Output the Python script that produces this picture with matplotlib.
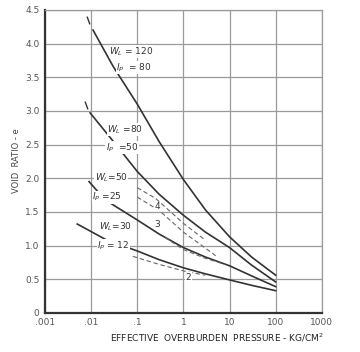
import matplotlib
matplotlib.use("Agg")
import matplotlib.pyplot as plt

# ---- data ----
c1_x = [0.011, 0.03, 0.1, 0.3, 1, 3, 10, 30, 100]
c1_e = [4.20, 3.66, 3.10, 2.54, 1.98, 1.53, 1.13, 0.83, 0.56]
c2_x = [0.0095, 0.03, 0.1, 0.3, 1, 3, 10, 30, 100]
c2_e = [2.97, 2.55, 2.10, 1.76, 1.45, 1.20, 0.97, 0.71, 0.46]
c3_x = [0.009, 0.02, 0.1, 0.3, 1, 3, 10, 30, 100]
c3_e = [1.95, 1.68, 1.38, 1.17, 0.97, 0.83, 0.70, 0.55, 0.39]
c4_x = [0.005, 0.022, 0.1, 0.3, 1, 3, 10, 30, 100]
c4_e = [1.32, 1.08, 0.92, 0.79, 0.67, 0.58, 0.49, 0.41, 0.33]

d4a_x = [0.1, 0.25, 1, 3]
d4a_e = [1.86, 1.70, 1.33, 1.08]
d4b_x = [0.1, 0.3, 1, 5]
d4b_e = [1.72, 1.52, 1.20, 0.85]
d3_x = [0.4, 1, 3, 8]
d3_e = [1.12, 0.94, 0.81, 0.72]
d2_x = [0.08, 0.3, 1.2, 3]
d2_e = [0.84, 0.72, 0.61, 0.56]

tick_x = [0.0086, 0.0078]
tick_e = [4.35, 3.09]

xticks = [0.001, 0.01, 0.1, 1, 10, 100, 1000]
xticklabels = [".001", ".01", ".1", "1", "10", "100", "1000"]
yticks = [0, 0.5, 1.0, 1.5, 2.0, 2.5, 3.0, 3.5, 4.0, 4.5]
yticklabels = ["0", "0.5", "1.0", "1.5", "2.0", "2.5", "3.0", "3.5", "4.0", "4.5"]

fig = plt.figure(figsize=(3.6, 3.52), dpi=100)
ax = fig.add_axes([0.125, 0.111, 0.769, 0.861])
ax.set_xscale("log")
ax.set_xlim(0.001, 1000)
ax.set_ylim(0, 4.5)
ax.set_xticks(xticks)
ax.set_xticklabels(xticklabels)
ax.set_yticks(yticks)
ax.set_yticklabels(yticklabels)
ax.minorticks_off()
ax.tick_params(length=0, labelsize=6.5, colors="#555555", pad=4)
ax.grid(True, color="#9a9a9a", linewidth=0.9)
ax.set_axisbelow(True)
for s in ["top", "right"]:
    ax.spines[s].set_color("#9a9a9a")
    ax.spines[s].set_linewidth(0.9)
for s in ["left", "bottom"]:
    ax.spines[s].set_color("#333333")
    ax.spines[s].set_linewidth(1.6)

lc = "#333333"
for x, y in [(c1_x, c1_e), (c2_x, c2_e), (c3_x, c3_e), (c4_x, c4_e)]:
    ax.plot(x, y, color=lc, linewidth=1.2, zorder=3)
for x, y in [(d4a_x, d4a_e), (d4b_x, d4b_e), (d3_x, d3_e), (d2_x, d2_e)]:
    ax.plot(x, y, color="#666666", linewidth=0.8, dashes=(4, 2.5), zorder=3)
ax.plot(tick_x, tick_e, linestyle="none", marker=(2, 0, 20), markersize=6,
        markeredgecolor=lc, markeredgewidth=1.0, zorder=3)

bb = dict(facecolor="white", edgecolor="none", pad=0.2)
fs = 6.5
tk = dict(fontsize=fs, color="#333333", ha="center", va="center", zorder=5, bbox=bb)
ax.text(0.075, 3.88, r"$W_L$ = 120", **tk)
ax.text(0.085, 3.64, r"$I_P$  = 80", **tk)
ax.text(0.055, 2.72, r"$W_L$ =80", **tk)
ax.text(0.047, 2.45, r"$I_P$  =50", **tk)
ax.text(0.027, 2.00, r"$W_L$=50", **tk)
ax.text(0.022, 1.72, r"$I_P$ =25", **tk)
ax.text(0.033, 1.28, r"$W_L$=30", **tk)
ax.text(0.030, 1.00, r"$I_P$ = 12", **tk)
ax.text(0.27, 1.58, "4", **tk)
ax.text(0.27, 1.31, "3", **tk)
ax.text(1.29, 0.53, "2", **tk)

fig.text(0.047, 0.545, "VOID  RATIO - e", rotation=90, fontsize=6,
         color="#444444", ha="center", va="center")
fig.text(0.603, 0.04, r"EFFECTIVE  OVERBURDEN  PRESSURE - KG/CM$^2$", fontsize=6.5,
         color="#222222", ha="center", va="center")

fig.savefig("out.png", dpi=100, facecolor="white")
